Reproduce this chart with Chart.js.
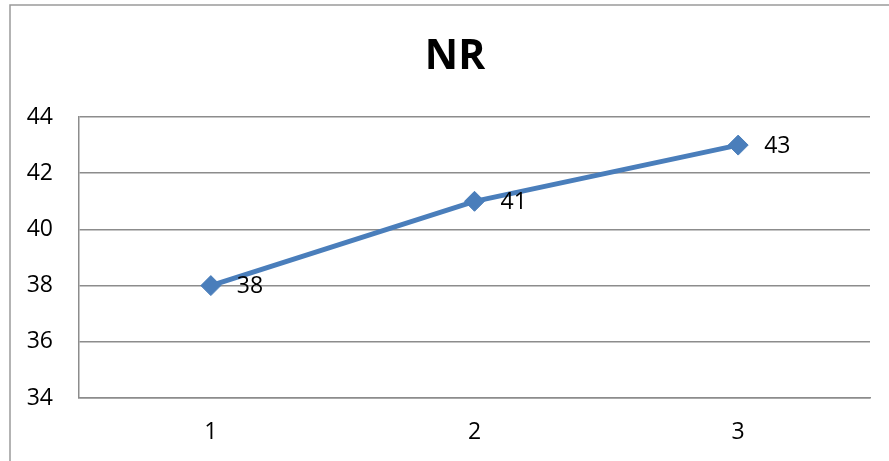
<!DOCTYPE html>
<html>
<head>
<meta charset="utf-8">
<script src="https://cdn.jsdelivr.net/npm/chart.js@4/dist/chart.umd.min.js"></script>
<style>
  html, body { margin: 0; padding: 0; background: #fff; }
  #wrap { width: 889px; height: 461px; }
</style>
</head>
<body>
<div id="wrap"><canvas id="chart" width="889" height="461"></canvas></div>
<script>
// chart data
const titleText = 'NR';
const categories = ['1', '2', '3'];
const nrValues = [38, 41, 43];
const yMin = 34;
const yMax = 44;
const yStep = 2;

const gridGray = '#8c8c8c';
const lineBlue = '#4a7ebb';

// outer frame of the chart object (runs off the right and bottom edges) + title
const framePlugin = {
  id: 'frame',
  beforeDraw(chart) {
    const ctx = chart.ctx;
    ctx.save();
    ctx.fillStyle = '#fff';
    ctx.fillRect(0, 0, chart.width, chart.height);
    ctx.strokeStyle = '#9a9a9a';
    ctx.lineWidth = 1.5;
    ctx.beginPath();
    ctx.moveTo(10, chart.height);
    ctx.lineTo(10, 5);
    ctx.lineTo(chart.width, 5);
    ctx.stroke();

    // title sits a bit right of canvas centre, like the original
    ctx.font = 'bold 41px "Open Sans"';
    ctx.fillStyle = '#000';
    ctx.textAlign = 'center';
    ctx.textBaseline = 'middle';
    ctx.fillText(titleText, 455, 57);
    ctx.restore();
  }
};

// value labels to the right of each marker
const valueLabels = {
  id: 'valueLabels',
  afterDatasetsDraw(chart) {
    const ctx = chart.ctx;
    ctx.save();
    ctx.font = '23px "Open Sans"';
    ctx.fillStyle = '#000';
    ctx.textAlign = 'left';
    ctx.textBaseline = 'middle';
    chart.getDatasetMeta(0).data.forEach((pt, i) => {
      ctx.fillText(String(nrValues[i]), pt.x + 26, pt.y + 1);
    });
    ctx.restore();
  }
};

new Chart(document.getElementById('chart'), {
  type: 'line',
  data: {
    labels: categories,
    datasets: [{
      label: titleText,
      data: nrValues,
      borderColor: lineBlue,
      backgroundColor: lineBlue,
      borderWidth: 5,
      pointStyle: 'rectRot',
      pointRadius: 10,
      pointBorderWidth: 1,
      pointBorderColor: lineBlue,
      pointBackgroundColor: lineBlue,
      fill: false,
      tension: 0
    }]
  },
  options: {
    responsive: false,
    animation: false,
    layout: { padding: { left: 0, right: 19, top: 117, bottom: 0 } },
    plugins: {
      legend: { display: false },
      tooltip: { enabled: false },
      title: { display: false }
    },
    scales: {
      x: {
        offset: true,
        grid: { display: false, drawTicks: false },
        border: { display: true, color: gridGray, width: 1.5 },
        ticks: {
          color: '#000',
          font: { family: 'Open Sans', size: 23 },
          padding: 21
        },
        afterFit(scale) { scale.height = 63; }
      },
      y: {
        min: yMin,
        max: yMax,
        grid: { color: gridGray, lineWidth: 1.5, drawTicks: false },
        border: { display: true, color: gridGray, width: 1.5 },
        ticks: {
          stepSize: yStep,
          color: '#000',
          font: { family: 'Open Sans', size: 23 },
          padding: 26
        },
        afterFit(scale) { scale.width = 79; }
      }
    }
  },
  plugins: [framePlugin, valueLabels]
});
</script>
</body>
</html>
